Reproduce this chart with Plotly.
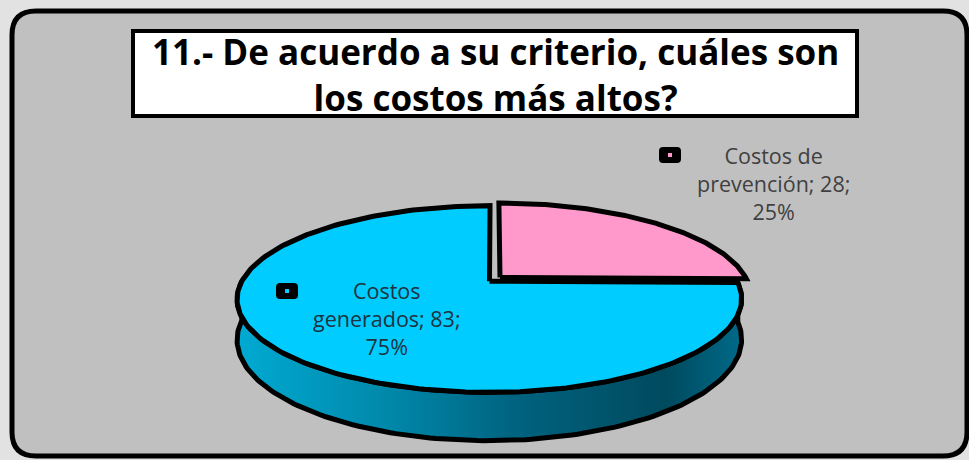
import numpy as np
import plotly.graph_objects as go

# ---- data ----
categories = ["Costos de prevención", "Costos generados"]
values = [28, 83]
title_lines = ["11.- De acuerdo a su criterio, cuáles son", "los costos más altos?"]

# ---- styling ----
slice_colors = ["#FF99CC", "#00CCFF"]
side_gradients = [
    [[0, "#d9669f"], [1, "#b04a80"]],
    [[0, "#00aad2"], [0.3, "#0088aa"], [0.55, "#006380"], [0.85, "#004a5e"], [1, "#006a88"]],
]
explode = [0.04, 0.02]
label_pos = [(773, 183), (387, 318)]
key_pos = [(670, 155), (287, 291)]
label_colors = ["#404040", "#1d3340"]

W, H_PX = 969, 460
CX, CY = 493, 280       # projected pie centre (px)
A, B = 247, 89.5        # horizontal / vertical radius scale (px)
K = 0.19                # perspective strength
DEPTH = 39              # pie thickness (px)


def proj(u, v, drop=0.0):
    s = 1.0 / (1.0 + K * v)
    return CX + A * u * s, CY - B * v * s + DEPTH * drop * s


def rounded_rect(xa, ya, xb, yb, r):
    return (f"M {xa+r},{ya} L {xb-r},{ya} Q {xb},{ya} {xb},{ya+r} L {xb},{yb-r} "
            f"Q {xb},{yb} {xb-r},{yb} L {xa+r},{yb} Q {xa},{yb} {xa},{yb-r} "
            f"L {xa},{ya+r} Q {xa},{ya} {xa+r},{ya} Z")


fig = go.Figure()

total = float(sum(values))
start = 90.0
slices = []
for i, val in enumerate(values):
    sweep = 360.0 * val / total
    t0, t1 = start, start - sweep          # clockwise from 12 o'clock
    mid = np.radians((t0 + t1) / 2)
    ou, ov = explode[i] * np.cos(mid), explode[i] * np.sin(mid)
    slices.append((t0, t1, ou, ov))
    start = t1

# side walls (front half only; slivers narrower than 2 degrees are hidden)
for i, (t0, t1, ou, ov) in enumerate(slices):
    lo, hi = max(t1, -180.0), min(t0, 0.0)
    if hi - lo <= 2.0:
        continue
    t = np.radians(np.linspace(hi, lo, 160))
    u, v = np.cos(t) + ou, np.sin(t) + ov
    xt, yt = proj(u, v, 0)
    xb, yb = proj(u[::-1], v[::-1], 1)
    fig.add_trace(go.Scatter(
        x=np.concatenate([xt, xb, xt[:1]]), y=np.concatenate([yt, yb, yt[:1]]),
        mode="lines", fill="toself",
        fillgradient=dict(type="horizontal", colorscale=side_gradients[i]),
        line=dict(color="black", width=5), hoverinfo="skip", showlegend=False))

# top faces
for i, (t0, t1, ou, ov) in enumerate(slices):
    t = np.radians(np.linspace(t0, t1, 240))
    u = np.concatenate([[0], np.cos(t), [0]]) + ou
    v = np.concatenate([[0], np.sin(t), [0]]) + ov
    x, y = proj(u, v)
    pct = values[i] / total * 100
    fig.add_trace(go.Scatter(
        x=x, y=y, mode="lines", fill="toself", fillcolor=slice_colors[i],
        line=dict(color="black", width=5, shape="linear"),
        name=categories[i], hovertext=f"{categories[i]}: {values[i]} ({pct:.0f}%)",
        hoverinfo="text", showlegend=False))

# outer rounded frame and title box
shapes = [
    dict(type="path", path=rounded_rect(12, 11, 967, 456, 24), xref="x", yref="y",
         layer="below", fillcolor="#c0c0c0", line=dict(color="black", width=5)),
    dict(type="rect", x0=133, y0=31, x1=857, y1=116, xref="x", yref="y",
         layer="below", fillcolor="white", line=dict(color="black", width=4)),
]

# data labels with legend keys
for i, name in enumerate(categories):
    pct = values[i] / total * 100
    head, tail = name.rsplit(" ", 1)
    txt = f"{head}<br>{tail}; {values[i]};<br>{pct:.0f}%"
    fig.add_annotation(x=label_pos[i][0], y=label_pos[i][1], xref="x", yref="y",
                       text=txt, showarrow=False, align="center",
                       font=dict(family="Open Sans", size=21.5, color=label_colors[i]))
    kx, ky = key_pos[i]
    shapes.append(dict(type="path", path=rounded_rect(kx - 11, ky - 8, kx + 11, ky + 8, 4),
                       xref="x", yref="y", fillcolor="black", line=dict(width=0)))
    shapes.append(dict(type="rect", x0=kx - 2, y0=ky - 2, x1=kx + 2, y1=ky + 2,
                       xref="x", yref="y", fillcolor=slice_colors[i], line=dict(width=0)))

fig.add_annotation(x=495, y=74, xref="x", yref="y", showarrow=False,
                   text="<br>".join(f"<b>{t}</b>" for t in title_lines),
                   font=dict(family="Open Sans", size=35, color="black"))

fig.update_layout(
    width=W, height=H_PX, margin=dict(l=0, r=0, t=0, b=0),
    paper_bgcolor="#e2e2e2", plot_bgcolor="rgba(0,0,0,0)",
    shapes=shapes,
    xaxis=dict(range=[0, W], visible=False, fixedrange=True),
    yaxis=dict(range=[H_PX, 0], visible=False, fixedrange=True),
)

fig.write_html("out.html")
